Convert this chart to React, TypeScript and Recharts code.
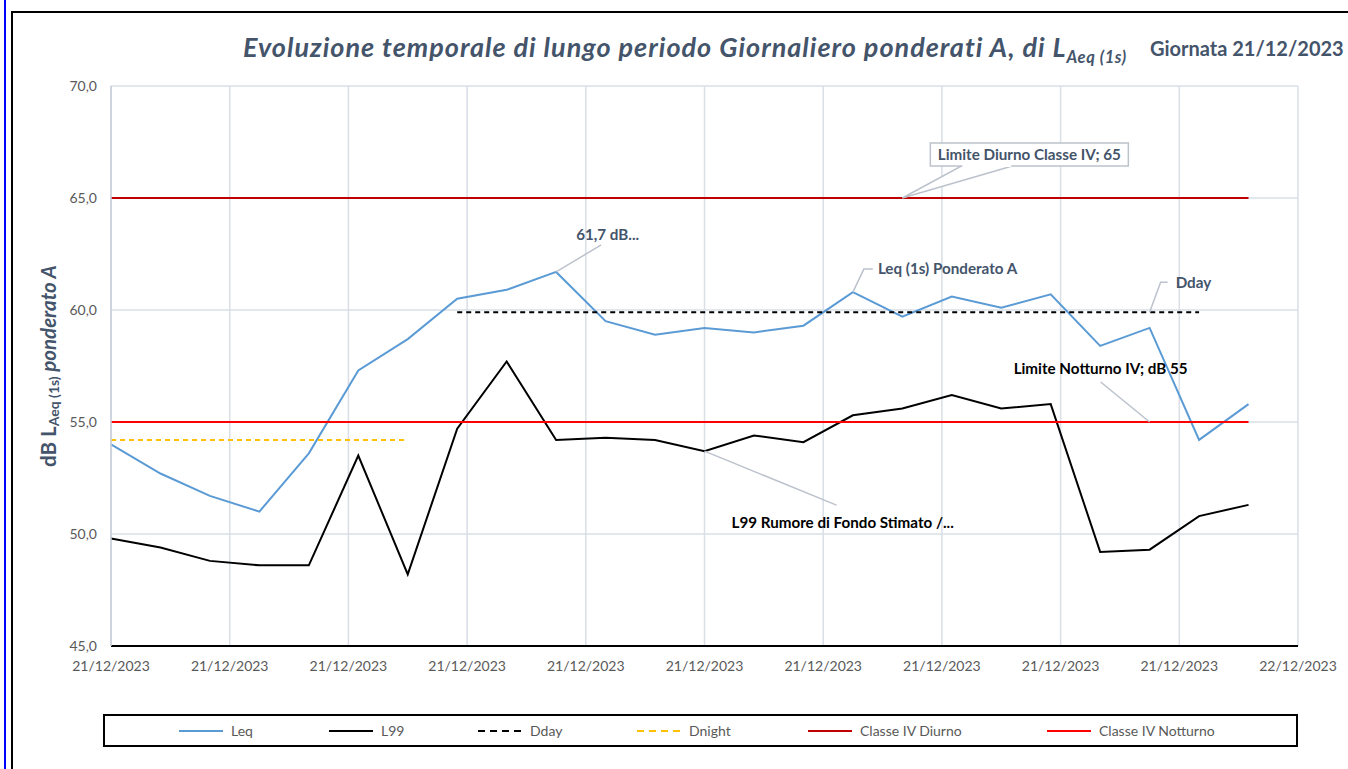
import { LineChart, Line, XAxis, YAxis, CartesianGrid, ReferenceDot } from "recharts";

// hourly samples, 21/12/2023 00:00 -> 23:00
const HOURS = [0, 1, 2, 3, 4, 5, 6, 7, 8, 9, 10, 11, 12, 13, 14, 15, 16, 17, 18, 19, 20, 21, 22, 23];
const LEQ = [54.0, 52.7, 51.7, 51.0, 53.6, 57.3, 58.7, 60.5, 60.9, 61.7, 59.5, 58.9, 59.2, 59.0, 59.3, 60.8, 59.7, 60.6, 60.1, 60.7, 58.4, 59.2, 54.2, 55.8];
const L99 = [49.8, 49.4, 48.8, 48.6, 48.6, 53.5, 48.2, 54.7, 57.7, 54.2, 54.3, 54.2, 53.7, 54.4, 54.1, 55.3, 55.6, 56.2, 55.6, 55.8, 49.2, 49.3, 50.8, 51.3];

const DDAY = 59.9;
const DDAY_HOURS = [7, 22];
const DNIGHT = 54.2;
const DNIGHT_HOURS = [0, 6];
const LIMIT_DAY = 65;
const LIMIT_NIGHT = 55;

const X_TICKS = [0, 2.4, 4.8, 7.2, 9.6, 12, 14.4, 16.8, 19.2, 21.6, 24];
const X_LABELS = ["21/12/2023", "21/12/2023", "21/12/2023", "21/12/2023", "21/12/2023", "21/12/2023", "21/12/2023", "21/12/2023", "21/12/2023", "21/12/2023", "22/12/2023"];
const Y_TICKS = [45, 50, 55, 60, 65, 70];

const FONT = "Lato, 'Noto Sans', sans-serif";
const TITLE_COLOR = "#44546A";
const AXIS_TEXT = "#595959";
const GRID = "#D9DEE7";
const LEADER = "#BCC2CC";
const NOTE_SIZE = 15.2;

const data = HOURS.map((h, i) => ({
  h,
  leq: LEQ[i],
  l99: L99[i],
  dday: h >= DDAY_HOURS[0] && h <= DDAY_HOURS[1] ? DDAY : null,
  dnight: h >= DNIGHT_HOURS[0] && h <= DNIGHT_HOURS[1] ? DNIGHT : null,
  diurno: LIMIT_DAY,
  notturno: LIMIT_NIGHT,
}));

const fmt = (v: number) => v.toFixed(1).replace(".", ",");

// leader line (optionally with an elbow) + bold text, offsets in px from the anchor point
function leader(
  text: string,
  pts: number[][],
  tx: number,
  ty: number,
  color: string,
) {
  return (props: any) => {
    const { cx, cy } = props;
    const path = [[0, 0], ...pts].map(([dx, dy], i) => `${i ? "L" : "M"}${cx + dx},${cy + dy}`).join(" ");
    return (
      <g>
        <path d={path} stroke={LEADER} strokeWidth={1.5} fill="none" />
        <text x={cx + tx} y={cy + ty} dy="0.35em" fill={color} fontSize={NOTE_SIZE} fontWeight={700} fontFamily={FONT}>
          {text}
        </text>
      </g>
    );
  };
}

function boxCallout(text: string) {
  return (props: any) => {
    const { cx, cy } = props;
    return (
      <g>
        <path
          d={`M${cx},${cy} L${cx + 59},${cy - 32} L${cx + 110},${cy - 32} Z`}
          stroke={LEADER}
          strokeWidth={1.5}
          fill="#fff"
        />
        <rect x={cx + 28} y={cy - 55} width={198} height={23} fill="#fff" stroke={LEADER} strokeWidth={1.5} />
        <path d={`M${cx + 60},${cy - 32} L${cx + 109},${cy - 32}`} stroke="#fff" strokeWidth={2} />
        <text x={cx + 127} y={cy - 43} dy="0.35em" textAnchor="middle" fill={TITLE_COLOR} fontSize={NOTE_SIZE} fontWeight={700} fontFamily={FONT}>
          {text}
        </text>
      </g>
    );
  };
}

const YLabel = (props: any) => {
  const vb = props.viewBox || { x: 51, y: 86, height: 560 };
  const x = vb.x - 3;
  const y = vb.y + vb.height / 2;
  return (
    <text
      x={x}
      y={y}
      transform={`rotate(-90 ${x} ${y})`}
      textAnchor="middle"
      dominantBaseline="central"
      fill={TITLE_COLOR}
      fontFamily={FONT}
      fontWeight={700}
      fontSize={20.5}
    >
      <tspan>dB L</tspan>
      <tspan fontSize={14} dy={5}>Aeq (1s)</tspan>
      <tspan fontStyle="italic" dy={-5}> ponderato A</tspan>
    </text>
  );
};

const LEGEND = [
  { name: "Leq", color: "#5B9BD5", dash: undefined, x: 179 },
  { name: "L99", color: "#000000", dash: undefined, x: 329 },
  { name: "Dday", color: "#000000", dash: "7 5", x: 478 },
  { name: "Dnight", color: "#FFC000", dash: "7 5", x: 637 },
  { name: "Classe IV Diurno", color: "#C00000", dash: undefined, x: 808 },
  { name: "Classe IV Notturno", color: "#FF0000", dash: undefined, x: 1047 },
];

export default function App() {
  return (
    <div style={{ position: "fixed", left: 0, top: 0, width: 1348, height: 769, background: "#fff", fontFamily: FONT, overflow: "hidden" }}>
      {/* frame */}
      <div style={{ position: "absolute", left: 4, top: 0, width: 2, height: 769, background: "#0000FF" }} />
      <div style={{ position: "absolute", left: 11, top: 11, width: 1400, height: 800, borderLeft: "2px solid #000", borderTop: "2px solid #000" }} />

      {/* title */}
      <div style={{ position: "absolute", left: 243, top: 32, whiteSpace: "nowrap", color: TITLE_COLOR, fontWeight: 700, fontStyle: "italic", fontSize: 27, lineHeight: "30px", letterSpacing: 1.0 }}>
        Evoluzione temporale di lungo periodo Giornaliero ponderati A, di L
        <span style={{ fontSize: 16.5, position: "relative", top: 6, letterSpacing: 0.6 }}>Aeq (1s)</span>
      </div>
      <div style={{ position: "absolute", left: 1150, top: 37, whiteSpace: "nowrap", color: TITLE_COLOR, fontWeight: 700, fontSize: 20, lineHeight: "22px" }}>
        Giornata 21/12/2023
      </div>

      <div style={{ position: "absolute", left: 0, top: 0 }}>
        <LineChart width={1348} height={769} data={data} margin={{ top: 86, right: 50, bottom: 93, left: 51 }}>
          <CartesianGrid stroke={GRID} strokeWidth={1.5} />
          <XAxis
            dataKey="h"
            type="number"
            domain={[0, 24]}
            ticks={X_TICKS}
            interval={0}
            tickFormatter={(v: number) => X_LABELS[X_TICKS.indexOf(v)]}
            tickLine={false}
            tickMargin={9}
            height={30}
            stroke="#000"
            strokeWidth={2}
            tick={{ fill: AXIS_TEXT, fontSize: 14, fontFamily: FONT }}
          />
          <YAxis
            type="number"
            domain={[45, 70]}
            ticks={Y_TICKS}
            interval={0}
            tickFormatter={fmt}
            tickLine={false}
            tickMargin={8}
            width={60}
            stroke="#C9CFD9"
            strokeWidth={1.5}
            tick={{ fill: AXIS_TEXT, fontSize: 14, fontFamily: FONT }}
            label={{ content: YLabel }}
          />
          <Line dataKey="leq" stroke="#5B9BD5" strokeWidth={2} dot={false} activeDot={false} isAnimationActive={false} />
          <Line dataKey="l99" stroke="#000000" strokeWidth={2} dot={false} activeDot={false} isAnimationActive={false} />
          <Line dataKey="dday" stroke="#000000" strokeWidth={2} strokeDasharray="5 4" dot={false} activeDot={false} isAnimationActive={false} />
          <Line dataKey="dnight" stroke="#FFC000" strokeWidth={2} strokeDasharray="5 4" dot={false} activeDot={false} isAnimationActive={false} />
          <Line dataKey="diurno" stroke="#C00000" strokeWidth={2} dot={false} activeDot={false} isAnimationActive={false} />
          <Line dataKey="notturno" stroke="#FF0000" strokeWidth={2} dot={false} activeDot={false} isAnimationActive={false} />

          <ReferenceDot x={9} y={LEQ[9]} ifOverflow="visible" shape={leader(`${fmt(LEQ[9])} dB...`, [[45, -27]], 20, -37, TITLE_COLOR)} />
          <ReferenceDot x={15} y={LEQ[15]} ifOverflow="visible" shape={leader("Leq (1s) Ponderato A", [[11, -23], [20, -23]], 25, -23, TITLE_COLOR)} />
          <ReferenceDot x={21} y={DDAY} ifOverflow="visible" shape={leader("Dday", [[11, -30], [18, -30]], 26, -30, TITLE_COLOR)} />
          <ReferenceDot x={16} y={LIMIT_DAY} ifOverflow="visible" shape={boxCallout(`Limite Diurno Classe IV; ${LIMIT_DAY}`)} />
          <ReferenceDot x={21} y={LIMIT_NIGHT} ifOverflow="visible" shape={leader(`Limite Notturno IV; dB ${LIMIT_NIGHT}`, [[-49, -40]], -136, -53, "#000")} />
          <ReferenceDot x={12} y={L99[12]} ifOverflow="visible" shape={leader("L99 Rumore di Fondo Stimato /...", [[132, 54]], 27, 72, "#000")} />
        </LineChart>
      </div>

      {/* legend */}
      <div style={{ position: "absolute", left: 103, top: 714, width: 1191, height: 29, border: "2px solid #000" }}>
        {LEGEND.map((it) => (
          <div key={it.name} style={{ position: "absolute", left: it.x - 105, top: 0, height: 29, display: "flex", alignItems: "center", whiteSpace: "nowrap" }}>
            <svg width={44} height={4} style={{ marginRight: 8 }}>
              <line x1={0} y1={2} x2={44} y2={2} stroke={it.color} strokeWidth={2} strokeDasharray={it.dash} />
            </svg>
            <span style={{ color: AXIS_TEXT, fontSize: 14 }}>{it.name}</span>
          </div>
        ))}
      </div>
    </div>
  );
}
